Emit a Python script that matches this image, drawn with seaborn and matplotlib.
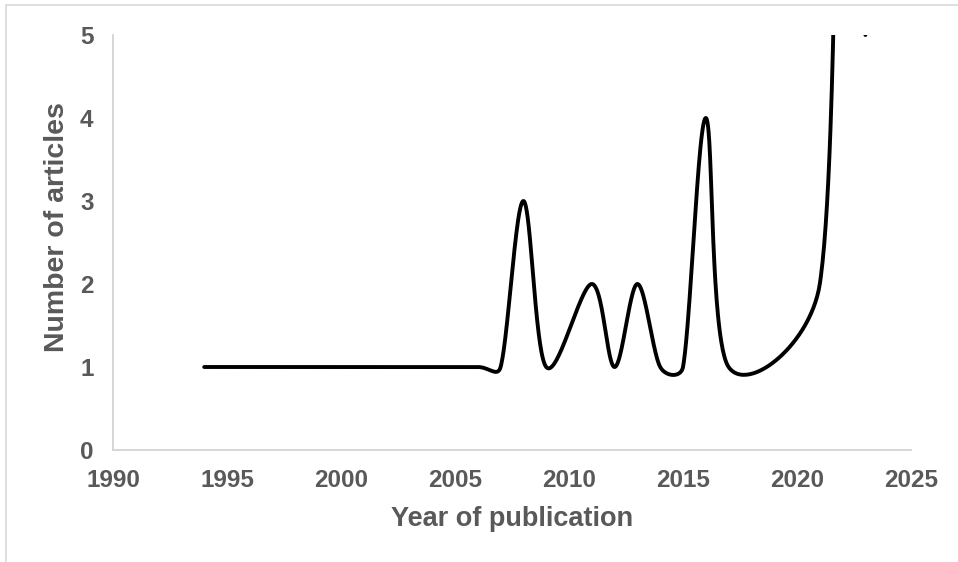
import matplotlib
matplotlib.use("Agg")
import matplotlib.pyplot as plt
from matplotlib.patches import Rectangle
import numpy as np
import pandas as pd
import seaborn as sns

# dados (pontos anuais)
anos = [1994, 2006, 2007, 2008, 2009, 2011, 2012, 2013, 2014, 2015, 2016, 2017, 2021, 2022, 2023]
artigos = [1, 1, 1, 3, 1, 2, 1, 2, 1, 1, 4, 1, 2, 10, 5]
ticks_x = [1990, 1995, 2000, 2005, 2010, 2015, 2020, 2025]
ticks_y = [0, 1, 2, 3, 4, 5]

cinza = "#595959"
fonte = ["Liberation Sans", "DejaVu Sans"]


def suavizar_excel(xs, ys, sx, sy, n=60):
    """Linha suavizada no estilo do Excel (bezier, tensao 1/6, feita em pixels)."""
    p = np.column_stack([np.asarray(xs, float) * sx, np.asarray(ys, float) * sy])
    saida = []
    for i in range(len(p) - 1):
        p0 = p[i - 1] if i > 0 else p[i]
        p1, p2 = p[i], p[i + 1]
        p3 = p[i + 2] if i + 2 < len(p) else p[i + 1]
        d12 = np.linalg.norm(p2 - p1)
        t1 = (p2 - p0) / 6
        t2 = (p3 - p1) / 6
        # limita o braco de controle a metade do segmento
        for t in (t1, t2):
            comp = np.linalg.norm(t)
            if comp > d12 / 2:
                t *= (d12 / 2) / comp
        c1, c2 = p1 + t1, p2 - t2
        tt = np.linspace(0, 1, n)[:, None]
        seg = ((1 - tt) ** 3) * p1 + 3 * ((1 - tt) ** 2) * tt * c1 + 3 * (1 - tt) * tt ** 2 * c2 + tt ** 3 * p2
        saida.append(seg if i == 0 else seg[1:])
    pts = np.vstack(saida)
    return pts[:, 0] / sx, pts[:, 1] / sy


sns.set_style("white")
plt.rcParams["font.family"] = fonte

fig = plt.figure(figsize=(9.58, 5.62), dpi=100)
ax = fig.add_axes([113 / 958, 112 / 562, 798 / 958, 415 / 562])

# escala em pixels (anos e artigos)
sx = 798 / 35
sy = 415 / 5
xs, ys = suavizar_excel(anos, artigos, sx, sy)
curva = pd.DataFrame({"ano": xs, "artigos": ys})
sns.lineplot(data=curva, x="ano", y="artigos", sort=False, estimator=None,
             color="black", linewidth=2.8, ax=ax)

ax.set_xlim(1990, 2025)
ax.set_ylim(0, 5)
ax.set_xticks(ticks_x)
ax.set_yticks(ticks_y)
ax.tick_params(length=0, pad=14, labelsize=17.5, labelcolor=cinza)
for lab in ax.get_xticklabels() + ax.get_yticklabels():
    lab.set_fontweight("bold")

for lado in ["top", "right"]:
    ax.spines[lado].set_visible(False)
for lado in ["left", "bottom"]:
    ax.spines[lado].set_color("#d0d0d0")
    ax.spines[lado].set_linewidth(1.2)

ax.set_xlabel("Year of publication", fontsize=19.5, fontweight="bold", color=cinza, va="top")
ax.set_ylabel("Number of articles", fontsize=20.5, fontweight="bold", color=cinza, va="center")
ax.xaxis.set_label_coords(0.5, -0.135)
ax.yaxis.set_label_coords(-0.070, 0.537)

# moldura do grafico
fig.patches.append(Rectangle((6 / 958, -0.1), 1.2, 1 - 5 / 562 + 0.1, transform=fig.transFigure,
                             fill=False, edgecolor="#d9d9d9", linewidth=1.2))

fig.savefig("out.png", dpi=100)
